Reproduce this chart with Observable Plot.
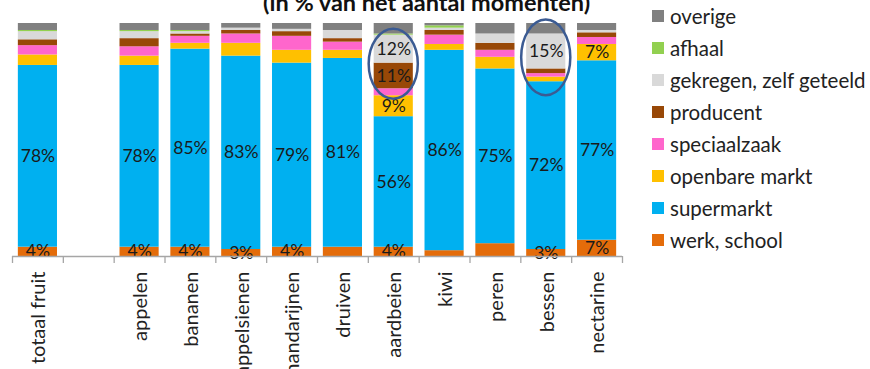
<!DOCTYPE html>
<html><head><meta charset="utf-8">
<script src="https://cdn.jsdelivr.net/npm/d3@7"></script>
<script src="https://cdn.jsdelivr.net/npm/@observablehq/plot@0.6"></script>
<style>
body{margin:0;background:#fff;}
#wrap{position:relative;width:870px;height:369px;overflow:hidden;font-family:Lato, "Open Sans", sans-serif;color:#222;}
#chart{position:absolute;left:0;top:0;}
#title{position:absolute;left:263px;top:-9px;font-weight:bold;font-size:23.5px;line-height:23px;white-space:nowrap;color:#111;}
.leg{position:absolute;left:652px;height:32px;display:flex;align-items:center;font-size:20.5px;white-space:nowrap;}
.leg span.sw{display:inline-block;width:12px;height:12px;margin-right:6px;}
</style></head><body>
<div id="wrap"><div id="chart"></div><div id="title">(in % van het aantal momenten)</div></div>
<script>
const categories = ["totaal fruit", " ", "appelen", "bananen", "appelsienen", "mandarijnen", "druiven", "aardbeien", "kiwi", "peren", "bessen", "nectarine"];
const sources = ["werk, school", "supermarkt", "openbare markt", "speciaalzaak", "producent", "gekregen, zelf geteeld", "afhaal", "overige"];
const colors = ["#e46c0a", "#00b0f0", "#ffc000", "#ff66cc", "#984807", "#d9d9d9", "#92d050", "#808080"];

// values in %, one entry per category (null = empty slot)
const werkSchool    = [4,   null, 4,   4,   3,   4,   4,   4,   2.5, 5.5, 3,   7];
const supermarkt    = [78,  null, 78,  85,  83,  79,  81,  56,  86,  75,  72,  77];
const openbareMarkt = [4.5, null, 4,   2.5, 5.5, 5.5, 3.5, 9,   2.5, 5,   2,   7];
const speciaalzaak  = [4,   null, 4,   3,   4,   6,   3.5, 3,   4,   3,   1.5, 3];
const producent     = [2.5, null, 3.5, 1,   1.5, 2,   1.5, 11,  2,   3,   2,   2];
const gekregen      = [3.5, null, 3,   1,   1,   1,   3.5, 12,  1,   4,   15,  1];
const afhaal        = [0.5, null, 0.5, 0.5, 0,   0,   0,   0.5, 1,   0,   0,   0];
const overige       = [3,   null, 3,   3,   2,   2.5, 3,   4.5, 1,   4.5, 4.5, 3];

// which segments carry a value label
const werkLabels = ["totaal fruit", "appelen", "bananen", "appelsienen", "mandarijnen", "aardbeien", "bessen", "nectarine"];
const supermarktLabels = ["totaal fruit", "appelen", "bananen", "appelsienen", "mandarijnen", "druiven", "aardbeien", "kiwi", "peren", "bessen", "nectarine"];
const openbareLabels = ["aardbeien", "nectarine"];
const producentLabels = ["aardbeien"];
const gekregenLabels = ["aardbeien", "bessen"];

// highlighted (circled) bars: category, lower and upper bound in %
const highlightCats = ["aardbeien", "bessen"];
const highlightLow  = [67.5, 69];
const highlightHigh = [97.5, 101.5];

const series = [werkSchool, supermarkt, openbareMarkt, speciaalzaak, producent, gekregen, afhaal, overige];
const labelSets = [werkLabels, supermarktLabels, openbareLabels, [], producentLabels, gekregenLabels, [], []];

const rows = [];
sources.forEach((s, si) => {
  categories.forEach((c, ci) => {
    const v = series[si][ci];
    if (v == null) return;
    rows.push({cat: c, source: s, value: v, label: labelSets[si].includes(c) ? Math.round(v) + "%" : ""});
  });
});

const W = 640, ML = 12, MR = 18;
const step = (W - ML - MR) / categories.length;

const plot = Plot.plot({
  width: W, height: 369,
  marginLeft: ML, marginRight: MR, marginTop: 23, marginBottom: 113,
  style: {fontFamily: "Lato, 'Open Sans', sans-serif", fontSize: "20px", color: "#222", background: "transparent", overflow: "visible"},
  x: {domain: categories, paddingInner: 0.23, paddingOuter: 0.115, round: false, label: null},
  y: {domain: [0, 100], axis: null},
  color: {domain: sources, range: colors},
  marks: [
    Plot.barY(rows, {x: "cat", y: "value", fill: "source"}),
    Plot.text(rows, Plot.stackY({x: "cat", y: "value", z: "source", text: "label", fontSize: 17.5, fill: "#1a1a1a"})),
    Plot.ruleY([0], {stroke: "#a6a6a6", strokeWidth: 1.3}),
    Plot.axisX({tickSize: 7, tickFormat: () => "", dx: -step / 2, stroke: "#a6a6a6", strokeWidth: 1.3, label: null}),
    Plot.axisX(["nectarine"], {tickSize: 7, tickFormat: () => "", dx: step / 2, stroke: "#a6a6a6", strokeWidth: 1.3, label: null}),
    Plot.axisX({tickSize: 0, tickPadding: 15, tickRotate: -90, tickFormat: d => d.trim(), fontSize: 20, dx: 1, label: null})
  ]
});

const xs = plot.scale("x"), ys = plot.scale("y");
const svg = d3.select(plot);
highlightCats.forEach((c, i) => {
  const cx = xs.apply(c) + xs.bandwidth / 2;
  const y1 = ys.apply(highlightHigh[i]), y2 = ys.apply(highlightLow[i]);
  svg.append("ellipse")
    .attr("cx", cx).attr("cy", (y1 + y2) / 2)
    .attr("rx", xs.bandwidth / 2 + 5).attr("ry", (y2 - y1) / 2)
    .attr("fill", "none").attr("stroke", "#3b5b93").attr("stroke-width", 2.5);
});

document.getElementById("chart").appendChild(plot);

const wrap = document.getElementById("wrap");
const legendOrder = sources.slice().reverse();
legendOrder.forEach((s, i) => {
  const d = document.createElement("div");
  d.className = "leg";
  d.style.top = (16 + 32 * i - 16) + "px";
  const sw = document.createElement("span");
  sw.className = "sw";
  sw.style.background = colors[sources.indexOf(s)];
  d.appendChild(sw);
  d.appendChild(document.createTextNode(s));
  wrap.appendChild(d);
});
</script>
</body></html>
